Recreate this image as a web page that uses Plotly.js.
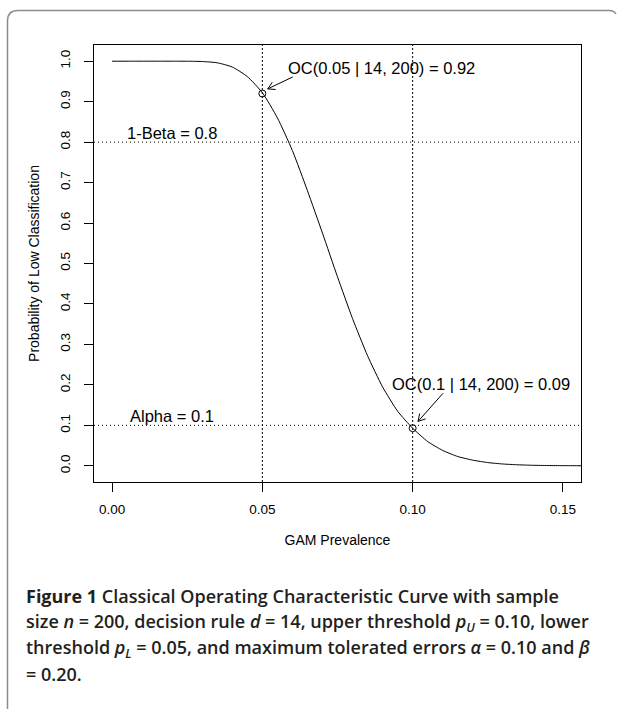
<!DOCTYPE html>
<html>
<head>
<meta charset="utf-8">
<script src="https://cdn.plot.ly/plotly-3.0.1.min.js"></script>
<style>
html,body{margin:0;padding:0;background:#fff;}
#chart{width:621px;height:711px;}
</style>
</head>
<body>
<div id="chart"></div>
<script>
// ---- data ----
const prevalence = [0.000,0.005,0.010,0.015,0.020,0.025,0.030,0.035,0.040,0.045,0.050,0.055,0.060,0.065,0.070,0.075,0.080,0.085,0.090,0.095,0.100,0.105,0.110,0.115,0.120,0.125,0.130,0.135,0.140,0.145,0.150,0.155,0.160];
const ocProb = [1.0,1.0,1.0,1.0,1.0,0.9999,0.9992,0.9960,0.9855,0.9620,0.922,0.860,0.779,0.680,0.575,0.467,0.364,0.272,0.195,0.135,0.093,0.060,0.038,0.023,0.014,0.008,0.0045,0.0025,0.0013,0.0007,0.0004,0.0002,0.0001];

const thresholdX = [0.05, 0.10];          // p_L, p_U
const thresholdY = [0.8, 0.1];            // 1-Beta, Alpha
const thresholdLabels = ["1-Beta = 0.8", "Alpha = 0.1"];
const thresholdLabelX = [0.02, 0.02];
const thresholdLabelY = [0.823, 0.124];

const pointX = [0.05, 0.10];
const pointY = [0.92, 0.093];
const pointLabels = ["OC(0.05 | 14, 200) = 0.92", "OC(0.1 | 14, 200) = 0.09"];
const pointLabelX = [0.0898, 0.1228];
const pointLabelY = [0.982, 0.202];
const arrowTailX = [0.0601, 0.1101];
const arrowTailY = [0.961, 0.1793];
const arrowHeadX = [0.0518, 0.1018];
const arrowHeadY = [0.9316, 0.1098];

const xTicks = [0.00, 0.05, 0.10, 0.15];
const xTickText = ["0.00", "0.05", "0.10", "0.15"];
const yTicks = [0.0,0.1,0.2,0.3,0.4,0.5,0.6,0.7,0.8,0.9,1.0];
const yTickText = ["0.0","0.1","0.2","0.3","0.4","0.5","0.6","0.7","0.8","0.9","1.0"];

const captionLines = [
  "<b>Figure 1</b> Classical Operating Characteristic Curve with sample",
  "size <i>n</i> = 200, decision rule <i>d</i> = 14, upper threshold <i>p</i><sub><i>U</i></sub> = 0.10, lower",
  "threshold <i>p</i><sub><i>L</i></sub> = 0.05, and maximum tolerated errors <i>α</i> = 0.10 and <i>β</i>",
  "= 0.20."
];

// ---- layout geometry ----
const W = 621, H = 711;
const M = {l: 94, r: 40, t: 45, b: 229};
const xRange = [-0.006, 0.156];
const yRange = [-0.04, 1.04];
const plotW = W - M.l - M.r, plotH = H - M.t - M.b;
const pxPerX = plotW / (xRange[1] - xRange[0]);
const pxPerY = plotH / (yRange[1] - yRange[0]);
const px2paperX = p => (p - M.l) / plotW;
const py2paperY = p => (H - M.b - p) / plotH;

const FONT = "Liberation Sans, Arial, Helvetica, sans-serif";
const CAPFONT = "Open Sans, Lato, sans-serif";

// ---- traces ----
const traces = [];
traces.push({
  x: prevalence, y: ocProb, type: "scatter", mode: "lines",
  line: {color: "#000", width: 1, shape: "spline", smoothing: 0.6},
  hoverinfo: "skip", showlegend: false
});
traces.push({
  x: pointX, y: pointY, type: "scatter", mode: "markers",
  marker: {symbol: "circle-open", size: 7, color: "#000", line: {width: 1, color: "#000"}},
  hoverinfo: "skip", showlegend: false
});
// arrows (open V heads, as R arrows())
const ax = [], ay = [];
for (let i = 0; i < arrowTailX.length; i++) {
  const hx = arrowHeadX[i], hy = arrowHeadY[i], tx = arrowTailX[i], ty = arrowTailY[i];
  ax.push(tx, hx, null); ay.push(ty, hy, null);
  const dx = (hx - tx) * pxPerX, dy = (hy - ty) * pxPerY;
  const ang = Math.atan2(dy, dx);
  const L = 8;
  for (const s of [1, -1]) {
    const a = ang + Math.PI + s * Math.PI / 6;
    ax.push(hx, hx + L * Math.cos(a) / pxPerX, null);
    ay.push(hy, hy + L * Math.sin(a) / pxPerY, null);
  }
}
traces.push({
  x: ax, y: ay, type: "scatter", mode: "lines",
  line: {color: "#000", width: 1}, hoverinfo: "skip", showlegend: false, cliponaxis: false
});

// ---- shapes ----
const shapes = [];
thresholdY.forEach(v => shapes.push({
  type: "line", xref: "paper", yref: "y", x0: 0, x1: 1, y0: v, y1: v,
  line: {color: "#000", width: 1, dash: "1px,3px"}
}));
thresholdX.forEach(v => shapes.push({
  type: "line", xref: "x", yref: "paper", x0: v, x1: v, y0: 0, y1: 1,
  line: {color: "#000", width: 1, dash: "2px,2px"}
}));
// outer rounded frame of the figure panel
const fx = px2paperX, fy = py2paperY;
const framePath =
  `M ${fx(7.5)},${fy(709)} L ${fx(7.5)},${fy(21)} Q ${fx(7.5)},${fy(10.5)} ${fx(18)},${fy(10.5)} ` +
  `L ${fx(609)},${fy(10.5)} Q ${fx(614)},${fy(10.5)} ${fx(616)},${fy(14)}`;
shapes.push({type: "path", xref: "paper", yref: "paper", path: framePath,
  line: {color: "#8c8c8c", width: 1.5}, layer: "below"});

// ---- annotations ----
const annotations = [];
thresholdLabels.forEach((t, i) => annotations.push({
  text: t, x: thresholdLabelX[i], y: thresholdLabelY[i], xref: "x", yref: "y",
  showarrow: false, xanchor: "center", yanchor: "middle",
  font: {family: FONT, size: 16.5, color: "#000"}
}));
pointLabels.forEach((t, i) => annotations.push({
  text: t, x: pointLabelX[i], y: pointLabelY[i], xref: "x", yref: "y",
  showarrow: false, xanchor: "center", yanchor: "middle",
  font: {family: FONT, size: 16.5, color: "#000"}
}));
const capY = [596, 622, 648, 674];
captionLines.forEach((t, i) => annotations.push({
  text: t, x: fx(24), y: fy(capY[i]), xref: "paper", yref: "paper",
  showarrow: false, xanchor: "left", yanchor: "middle", align: "left",
  font: {family: CAPFONT, size: 18, color: "#231f20", weight: 600}
}));

const layout = {
  width: W, height: H,
  margin: M,
  paper_bgcolor: "#fff", plot_bgcolor: "#fff",
  showlegend: false,
  xaxis: {
    range: xRange, tickmode: "array", tickvals: xTicks, ticktext: xTickText,
    showgrid: false, zeroline: false, showline: true, mirror: true,
    linecolor: "#000", linewidth: 1, ticks: "outside", ticklen: 9, tickwidth: 1, tickcolor: "#000",
    tickfont: {family: FONT, size: 13.5, color: "#000"}, ticklabelstandoff: 6,
    title: {text: "GAM Prevalence", font: {family: FONT, size: 14, color: "#000"}, standoff: 18}
  },
  yaxis: {
    range: yRange, tickmode: "array", tickvals: yTicks, ticktext: yTickText,
    showgrid: false, zeroline: false, showline: true, mirror: true,
    linecolor: "#000", linewidth: 1, ticks: "outside", ticklen: 9, tickwidth: 1, tickcolor: "#000",
    tickangle: -90, tickfont: {family: FONT, size: 13.5, color: "#000"}, ticklabelstandoff: 9,
    title: {text: "Probability of Low Classification", font: {family: FONT, size: 14, color: "#000"}, standoff: 14}
  },
  shapes: shapes,
  annotations: annotations
};

Plotly.newPlot("chart", traces, layout, {displayModeBar: false, staticPlot: true});
</script>
</body>
</html>
